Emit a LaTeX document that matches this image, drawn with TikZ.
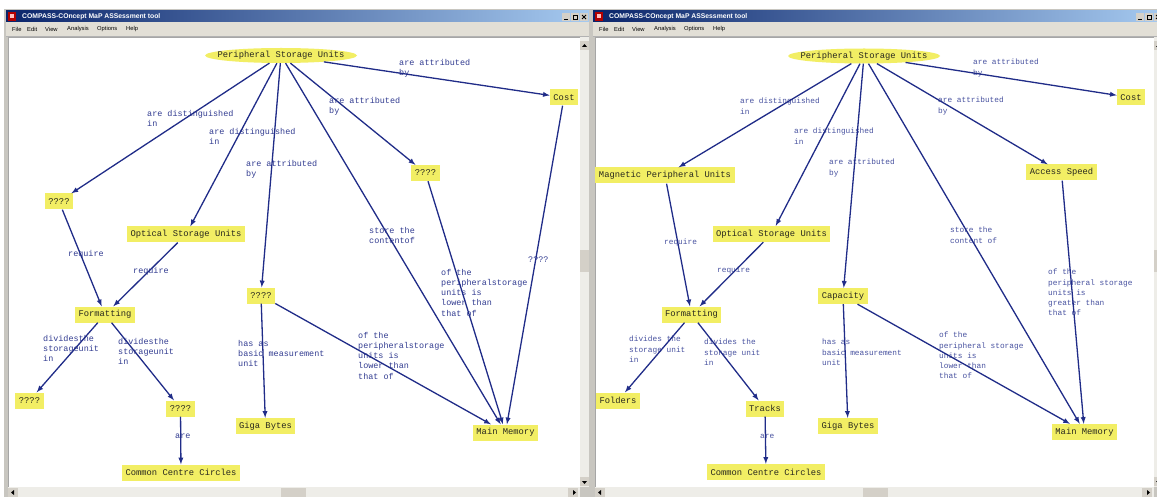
\documentclass[tikz,border=0pt]{standalone}
\usepackage{fontspec}
\newfontfamily\mapfont{Liberation Mono}
\newfontfamily\uifont{Liberation Sans}
\usetikzlibrary{shapes.geometric}

\definecolor{nodeyellow}{RGB}{242,238,100}
\definecolor{nodeink}{RGB}{40,40,30}
\definecolor{linkblue}{RGB}{32,44,136}
\definecolor{tagblue}{RGB}{50,60,145}
\definecolor{tagblueB}{RGB}{72,82,160}
\definecolor{titledark}{RGB}{10,36,106}
\definecolor{titlelight}{RGB}{166,202,240}
\definecolor{menugray}{RGB}{226,223,214}
\definecolor{framegray}{RGB}{200,198,192}
\definecolor{trackgray}{RGB}{238,237,232}
\definecolor{btngray}{RGB}{212,208,200}

\begin{document}
\begin{tikzpicture}[x=1pt,y=-1pt,>=latex,
    concept/.style={fill=nodeyellow,text=nodeink,font=\mapfont\fontsize{8.8}{10}\selectfont,
      inner xsep=3.5pt,inner ysep=0pt,minimum height=16pt},
    topic/.style={concept,ellipse,minimum width=152pt,minimum height=15pt,inner xsep=-20pt,inner ysep=-8pt},
    link/.style={draw=linkblue,line width=1.3pt,->},
    every edge/.style=link,
    tag/.style={anchor=north west,inner sep=0pt,align=left,text=tagblue,
      font=\mapfont\fontsize{8.45}{10.2}\selectfont},
    tagB/.style={tag,text=tagblueB,font=\mapfont\fontsize{7.8}{10.2}\selectfont},
    title/.style={anchor=west,inner sep=0pt,text=white,font=\uifont\bfseries\fontsize{6.8}{8}\selectfont},
    menu/.style={anchor=west,inner sep=0pt,text=black,font=\uifont\fontsize{5.8}{7}\selectfont}]

  \useasboundingbox (0,0) rectangle (1157,497);
  \clip (0,0) rectangle (1157,497);
  \fill[white] (0,0) rectangle (1157,497);

  % the two application windows
  \foreach \ox/\rx/\th in {0/589/281, 587/1163/276} {
    \fill[framegray] (\ox+4,9) rectangle (\rx+2,497);
    \shade[left color=titledark,right color=titlelight] (\ox+6,11) rectangle (\rx,22);
    \fill[red!70!black] (\ox+8,12) rectangle ++(8,9);
    \fill[red!25] (\ox+10,14) rectangle ++(4,4);
    \node[title] (title\ox) at (\ox+22,16.5) {COMPASS-COncept MaP ASSessment tool};
    \foreach \b in {0,9,18}
      \fill[btngray] (\rx-27+\b,13) rectangle ++(8,8);
    \draw[black,line width=0.8pt] (\rx-25,19.5) -- ++(3.5,0);
    \draw[black,line width=0.6pt] (\rx-16,15) rectangle ++(4,4);
    \draw[black,line width=0.8pt] (\rx-7,15) -- ++(4,4) (\rx-7,19) -- ++(4,-4);
    \fill[menugray] (\ox+6,22) rectangle (\rx,36);
    \draw[gray!60] (\ox+6,36.5) -- (\rx,36.5);
    \foreach \w/\x in {File/12,Edit/27,View/45,Analysis/67,Options/97,Help/126}
      \node[menu] (menu\ox\w) at (\ox+\x,29) {\w};
    % canvas and scroll bars
    \fill[white] (\ox+8,37) rectangle (\rx-9,487);
    \draw[gray!70,line width=0.8pt] (\ox+8,487) -- (\ox+8,37) -- (\rx-9,37);
    \fill[trackgray] (\rx-9,37) rectangle (\rx,487);
    \fill[trackgray] (\ox+8,487) rectangle (\rx-9,497);
    \fill[btngray] (\rx-9,41) rectangle ++(9,9);
    \fill[btngray] (\rx-9,477) rectangle ++(9,9);
    \fill[btngray] (\rx-9,250) rectangle ++(9,22);
    \fill[btngray] (\ox+8,488) rectangle ++(10,9);
    \fill[btngray] (\rx-21,488) rectangle ++(10,9);
    \fill[btngray] (\ox+\th,488) rectangle ++(25,9);
    \fill[black] (\rx-4.5,44) -- ++(-2.5,3) -- ++(5,0) -- cycle;
    \fill[black] (\rx-4.5,484) -- ++(-2.5,-3) -- ++(5,0) -- cycle;
    \fill[black] (\ox+11,492.5) -- ++(3,-2.5) -- ++(0,5) -- cycle;
    \fill[black] (\rx-13,492.5) -- ++(-3,-2.5) -- ++(0,5) -- cycle;
  }

  % left map
  \node[topic] (StorageA) at (281,55.5) {Peripheral Storage Units};
  \node[concept] (CostA) at (564,97.5) {Cost};
  \node[concept] (TypeA) at (59,201.5) {????};
  \node[concept] (OpticalA) at (186,234.5) {Optical Storage Units};
  \node[concept] (SpeedA) at (425.5,173) {????};
  \node[concept] (CapacityA) at (261,295.5) {????};
  \node[concept] (FormatA) at (105,314.5) {Formatting};
  \node[concept] (FoldersA) at (29.5,400.5) {????};
  \node[concept] (TracksA) at (180.5,408.5) {????};
  \node[concept] (CirclesA) at (181,472.5) {Common Centre Circles};
  \node[concept] (GigaA) at (265.5,426) {Giga Bytes};
  \node[concept] (MemoryA) at (505.5,432.5) {Main Memory};

  \node[tag] (tagA1) at (147,110) {are distinguished\\in};
  \node[tag] (tagA2) at (209,128) {are distinguished\\in};
  \node[tag] (tagA3) at (246,160) {are attributed\\by};
  \node[tag] (tagA4) at (329,97) {are attributed\\by};
  \node[tag] (tagA5) at (399,59) {are attributed\\by};
  \node[tag] (tagA6) at (369,227) {store the\\contentof};
  \node[tag] (tagA7) at (441,269) {of the\\peripheralstorage\\units is\\lower than\\that of};
  \node[tag] (tagA8) at (528,257) {????};
  \node[tag] (tagA9) at (238,340) {has as\\basic measurement\\unit};
  \node[tag] (tagA10) at (358,332) {of the\\peripheralstorage\\units is\\lower than\\that of};
  \node[tag] (tagA11) at (68,250) {require};
  \node[tag] (tagA12) at (133,267) {require};
  \node[tag] (tagA13) at (43,335) {dividesthe\\storageunit\\in};
  \node[tag] (tagA14) at (118,338) {dividesthe\\storageunit\\in};
  \node[tag] (tagA15) at (175,434) {are};

  \path (StorageA) edge (TypeA) edge (OpticalA) edge (CapacityA)
                   edge (SpeedA) edge (CostA) edge (MemoryA)
        (SpeedA) edge (MemoryA)
        (CostA) edge (MemoryA)
        (CapacityA) edge (GigaA) edge (MemoryA)
        (TypeA) edge (FormatA)
        (OpticalA) edge (FormatA)
        (FormatA) edge (FoldersA) edge (TracksA)
        (TracksA) edge (CirclesA);

  % right map
  \node[topic] (StorageB) at (864,56) {Peripheral Storage Units};
  \node[concept] (CostB) at (1131,97.5) {Cost};
  \node[concept] (MagneticB) at (665,175.5) {Magnetic Peripheral Units};
  \node[concept] (OpticalB) at (771.5,234) {Optical Storage Units};
  \node[concept] (SpeedB) at (1061.5,172.5) {Access Speed};
  \node[concept] (CapacityB) at (843,296) {Capacity};
  \node[concept] (FormatB) at (691.5,314.5) {Formatting};
  \node[concept] (FoldersB) at (618,400.5) {Folders};
  \node[concept] (TracksB) at (765,408.5) {Tracks};
  \node[concept] (CirclesB) at (766,472) {Common Centre Circles};
  \node[concept] (GigaB) at (848,426) {Giga Bytes};
  \node[concept] (MemoryB) at (1084.5,432) {Main Memory};

  \node[tagB] (tagB1) at (740,98) {are distinguished\\in};
  \node[tagB] (tagB2) at (794,128) {are distinguished\\in};
  \node[tagB] (tagB3) at (829,159) {are attributed\\by};
  \node[tagB] (tagB4) at (938,97) {are attributed\\by};
  \node[tagB] (tagB5) at (973,59) {are attributed\\by};
  \node[tagB] (tagB6) at (950,227) {store the\\content of};
  \node[tagB] (tagB7) at (1048,269) {of the\\peripheral storage\\units is\\greater than\\that of};
  \node[tagB] (tagB8) at (939,332) {of the\\peripheral storage\\units is\\lower than\\that of};
  \node[tagB] (tagB9) at (822,339) {has as\\basic measurement\\unit};
  \node[tagB] (tagB10) at (664,239) {require};
  \node[tagB] (tagB11) at (717,267) {require};
  \node[tagB] (tagB12) at (629,336) {divides the\\storage unit\\in};
  \node[tagB] (tagB13) at (704,339) {divides the\\storage unit\\in};
  \node[tagB] (tagB14) at (760,434) {are};

  \path (StorageB) edge (MagneticB) edge (OpticalB) edge (CapacityB)
                   edge (SpeedB) edge (CostB) edge (MemoryB)
        (SpeedB) edge (MemoryB)
        (CapacityB) edge (GigaB) edge (MemoryB)
        (MagneticB) edge (FormatB)
        (OpticalB) edge (FormatB)
        (FormatB) edge (FoldersB) edge (TracksB)
        (TracksB) edge (CirclesB);
\end{tikzpicture}
\end{document}
